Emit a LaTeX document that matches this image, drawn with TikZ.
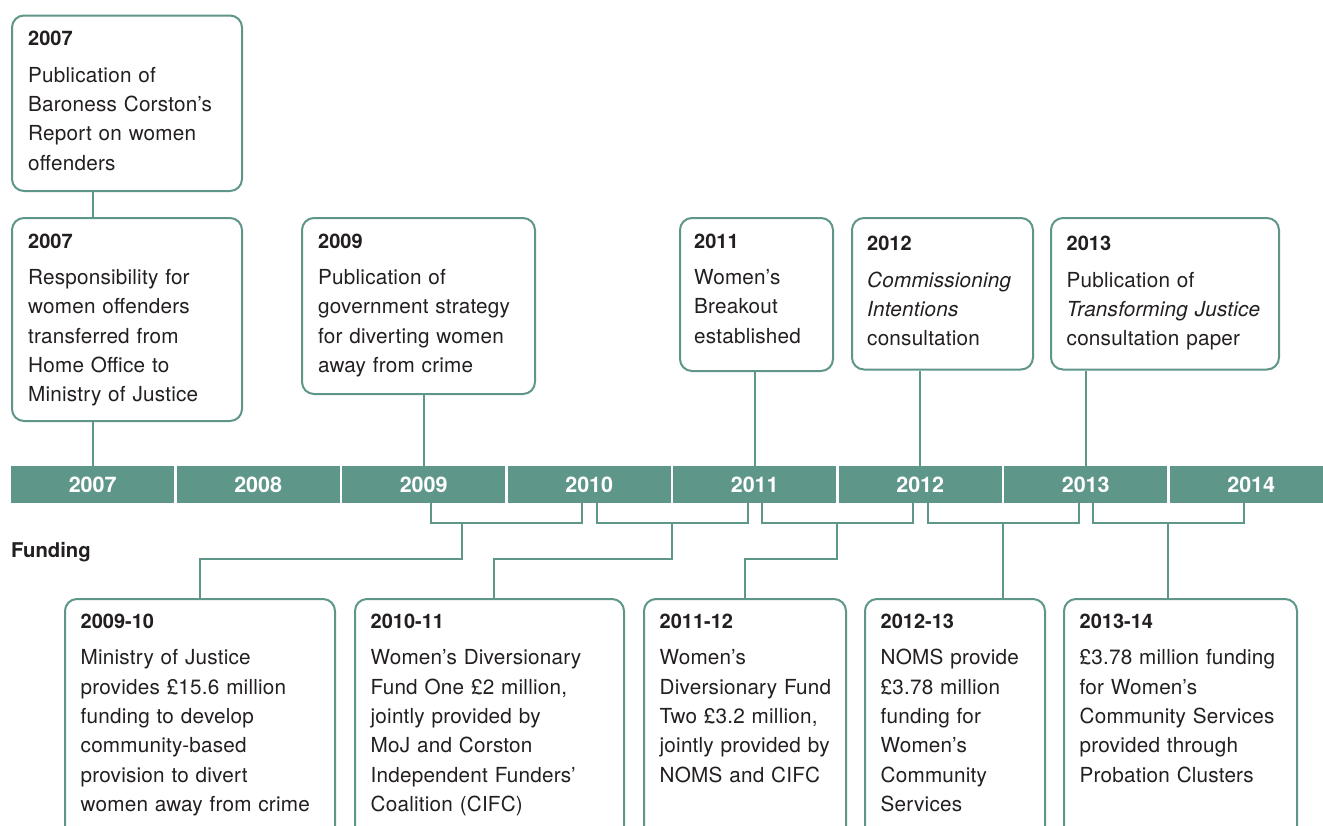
\documentclass[tikz,border=0pt]{standalone}
\usepackage{fontspec}
\setmainfont{TeX Gyre Heros}
\newfontfamily\bodyfont{TeX Gyre Heros}[LetterSpace=1]
\usetikzlibrary{calc}
\definecolor{teal}{HTML}{5F968A}
\definecolor{ink}{HTML}{231F20}
\newcommand\yr[1]{{\rmfamily\bfseries\fontsize{20}{29.3}\selectfont #1}}
\tikzset{
  evbox/.style={draw=teal, line width=2pt, rounded corners=12pt, fill=white,
    anchor=north west, inner sep=0pt},
  evtext/.style={anchor=base west, inner sep=0pt, align=left, text=ink,
    font=\bodyfont\fontsize{20.7}{29.3}\selectfont},
  yearseg/.style={fill=teal, anchor=north west, minimum width=163pt,
    minimum height=37pt, inner sep=0pt, text=white,
    font=\rmfamily\bfseries\fontsize{21.5}{24}\selectfont},
  conn/.style={draw=teal, line width=2pt},
  heading/.style={anchor=base west, inner sep=0pt, text=ink,
    font=\rmfamily\bfseries\fontsize{20.3}{24}\selectfont}
}
\begin{document}
\begin{tikzpicture}[x=1pt,y=-1pt]
\clip (0,0) rectangle (1323,825);
\fill[white] (0,0) rectangle (1323,825);

% timeline bar
\foreach \yy [count=\i from 0] in {2007,...,2014}{
  \node[yearseg] (y\yy) at (11+165.5*\i,466) {\yy};
}

% upper event boxes
\node[evbox, minimum width=230pt, minimum height=175.5pt] (bA) at (11,14.5) {};
\node[evbox, minimum width=230pt, minimum height=203pt] (bB) at (11,217) {};
\node[evbox, minimum width=233pt, minimum height=176pt] (bC) at (301,217) {};
\node[evbox, minimum width=153pt, minimum height=153pt] (bD) at (679,217) {};
\node[evbox, minimum width=181pt, minimum height=151.5pt] (bE) at (851,217) {};
\node[evbox, minimum width=228pt, minimum height=151.5pt] (bF) at (1050,217) {};

% funding boxes (run off the lower edge)
\node[evbox, minimum width=270pt, minimum height=260pt] (bG) at (64,598) {};
\node[evbox, minimum width=269pt, minimum height=260pt] (bH) at (354,598) {};
\node[evbox, minimum width=202pt, minimum height=260pt] (bI) at (643,598) {};
\node[evbox, minimum width=180pt, minimum height=260pt] (bJ) at (864,598) {};
\node[evbox, minimum width=233pt, minimum height=260pt] (bK) at (1063,598) {};

% box texts
\node[evtext, text width=225pt] (tA) at ($(bA.north west)+(17,31.2)$)
  {\yr{2007}\\[7.3pt]Publication of\\Baroness Corston’s\\Report on women\\offenders};
\node[evtext, text width=225pt] (tB) at ($(bB.north west)+(17,31)$)
  {\yr{2007}\\[7.3pt]Responsibility for\\women offenders\\transferred from\\Home Office to\\Ministry of Justice};
\node[evtext, text width=228pt] (tC) at ($(bC.north west)+(17,31)$)
  {\yr{2009}\\[7.3pt]Publication of\\government strategy\\for diverting women\\away from crime};
\node[evtext, text width=150pt] (tD) at ($(bD.north west)+(15,31)$)
  {\yr{2011}\\[7.3pt]Women’s\\Breakout\\established};
\node[evtext, text width=178pt] (tE) at ($(bE.north west)+(16,33.7)$)
  {\yr{2012}\\[7.3pt]\textit{Commissioning}\\\textit{Intentions}\\consultation};
\node[evtext, text width=228pt] (tF) at ($(bF.north west)+(16.5,33.7)$)
  {\yr{2013}\\[7.3pt]Publication of\\\textit{Transforming Justice}\\consultation paper};

\node[evtext, text width=270pt] (tG) at ($(bG.north west)+(16.5,30.3)$)
  {\yr{2009-10}\\[7.3pt]Ministry of Justice\\provides £15.6 million\\funding to develop\\community-based\\provision to divert\\women away from crime};
\node[evtext, text width=270pt] (tH) at ($(bH.north west)+(16.5,30.3)$)
  {\yr{2010-11}\\[7.3pt]Women’s Diversionary\\Fund One £2 million,\\jointly provided by\\MoJ and Corston\\Independent Funders’\\Coalition (CIFC)};
\node[evtext, text width=202pt] (tI) at ($(bI.north west)+(16.5,30.3)$)
  {\yr{2011-12}\\[7.3pt]Women’s\\Diversionary Fund\\Two £3.2 million,\\jointly provided by\\NOMS and CIFC};
\node[evtext, text width=180pt] (tJ) at ($(bJ.north west)+(16.5,30.3)$)
  {\yr{2012-13}\\[7.3pt]NOMS provide\\£3.78 million\\funding for\\Women’s\\Community\\Services};
\node[evtext, text width=233pt] (tK) at ($(bK.north west)+(16.5,30.3)$)
  {\yr{2013-14}\\[7.3pt]£3.78 million funding\\for Women’s\\Community Services\\provided through\\Probation Clusters};

\node[heading] (fund) at (11,557.5) {Funding};

% connectors from the upper boxes to the bar
\draw[conn] (bA.south -| y2007.north) -- (bB.north -| y2007.north);
\draw[conn] (bB.south -| y2007.north) -- (y2007.north);
\draw[conn] (bC.south -| y2009.north) -- (y2009.north);
\draw[conn] (bD.south -| y2011.north) -- (y2011.north);
\draw[conn] (bE.south -| y2012.north) -- (y2012.north);
\draw[conn] (bF.south -| y2013.north) -- (y2013.north);

% funding brackets under the bar
\foreach \a/\b in {2009/2010,2010/2011,2011/2012,2012/2013,2013/2014}{
  \draw[conn] ($(y\a.south)+(7.5,0)$) -- ++(0,20) -| ($(y\b.south)+(-7,0)$);
}
\coordinate (f1) at (462,523);
\coordinate (f2) at (671.5,523);
\coordinate (f3) at (837,523);
\coordinate (f4) at (1003,523);
\coordinate (f5) at (1168,523);
\draw[conn] (f1) -- ++(0,36) -| (bG.north);
\draw[conn] (f2) -- ++(0,36) -| ($(bH.north)+(4.5,0)$);
\draw[conn] (f3) -- ++(0,36) -| (bI.north);
\draw[conn] (f4) -- (f4 |- bJ.north);
\draw[conn] (f5) -- (f5 |- bK.north);
\end{tikzpicture}
\end{document}
